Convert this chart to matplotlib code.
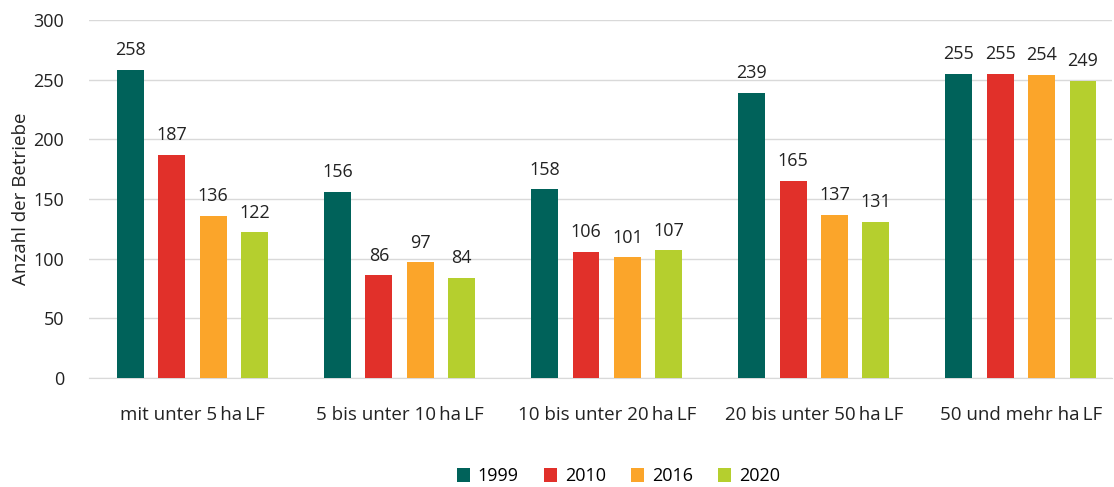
import matplotlib.pyplot as plt
import numpy as np

plt.rcParams['font.family'] = ['Open Sans', 'DejaVu Sans']

# Kategorien und Werte
kategorien = ['mit unter 5\u2009ha\u2009LF', '5 bis unter 10\u2009ha\u2009LF', '10 bis unter 20\u2009ha\u2009LF',
              '20 bis unter 50\u2009ha\u2009LF', '50 und mehr ha\u2009LF']
jahre = ['1999', '2010', '2016', '2020']
w1999 = [258, 156, 158, 239, 255]
w2010 = [187, 86, 106, 165, 255]
w2016 = [136, 97, 101, 137, 254]
w2020 = [122, 84, 107, 131, 249]

farben = ['#00625A', '#E1302A', '#FBA52A', '#B5CF2E']

fig = plt.figure(figsize=(11.14, 4.87), dpi=100)
ax = fig.add_axes([89 / 1114, 1 - 378 / 487, (1112 - 89) / 1114, (378 - 20) / 487])

x = np.arange(len(kategorien))
breite = 0.13
abstand = 0.2
for i, (werte, jahr) in enumerate(zip([w1999, w2010, w2016, w2020], jahre)):
    pos = x + (i - 1.5) * abstand
    bars = ax.bar(pos, werte, width=breite, color=farben[i], label=jahr, zorder=3)
    for b, v in zip(bars, werte):
        ax.text(b.get_x() + b.get_width() / 2, v + 9, str(v), ha='center', va='bottom',
                fontsize=13, color='#222222')

ax.set_ylim(0, 300)
ax.set_xlim(-0.5, 4.44)
ax.set_yticks(range(0, 301, 50))
ax.set_xticks(x)
ax.set_xticklabels(kategorien, fontsize=13.5, color='#222222')
ax.tick_params(axis='y', labelsize=13, colors='#222222', length=0, pad=18)
ax.tick_params(axis='x', length=0, pad=20)
ax.grid(axis='y', color='#D9D9D9', linewidth=1, zorder=0)
for s in ['top', 'right', 'left']:
    ax.spines[s].set_visible(False)
ax.spines['bottom'].set_color('#D9D9D9')
ax.set_ylabel('Anzahl der Betriebe', fontsize=13.5, color='#222222', labelpad=2)

fig.legend(loc='lower center', ncol=4, frameon=False, fontsize=13,
           bbox_to_anchor=(0.555, -0.03), handlelength=0.75, handleheight=0.75,
           columnspacing=1.4, handletextpad=0.4)

plt.savefig('out.png', dpi=100)
